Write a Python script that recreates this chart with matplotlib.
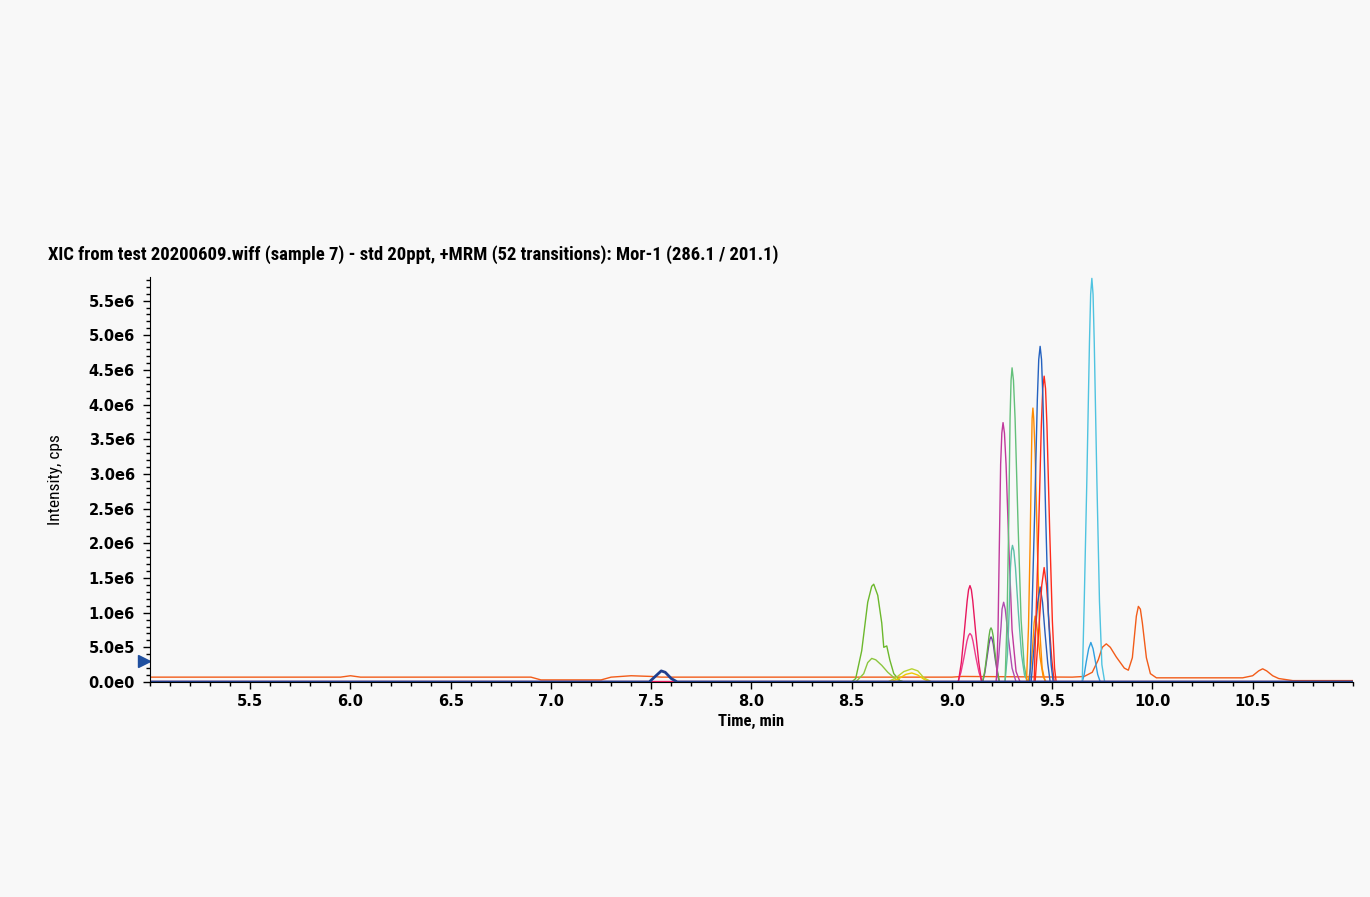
import matplotlib.pyplot as plt
import numpy as np
from matplotlib.ticker import MultipleLocator, FuncFormatter
import matplotlib.transforms as mtransforms
from matplotlib import font_manager

# ---- data read from the XIC (time in min, intensity in 1e6 cps) ----
title_txt = "XIC from test 20200609.wiff (sample 7) - std 20ppt, +MRM (52 transitions): Mor-1 (286.1 / 201.1)"

# orange-red trace with raised baseline and late peaks
mor_t = [5.0, 5.95, 6.0, 6.05, 6.9, 6.95, 7.25, 7.3, 7.4, 7.5, 7.55, 8.5, 8.9, 9.0, 9.05, 9.6,
         9.66, 9.7, 9.73, 9.75, 9.77, 9.79, 9.82, 9.86, 9.88, 9.9, 9.91, 9.92, 9.93, 9.94,
         9.95, 9.97, 9.99, 10.02, 10.45, 10.5, 10.53, 10.55, 10.57, 10.6, 10.63, 10.7, 11.0]
mor_i = [0.07, 0.07, 0.09, 0.07, 0.07, 0.03, 0.03, 0.07, 0.09, 0.08, 0.07, 0.07, 0.07, 0.07, 0.08, 0.07,
         0.08, 0.14, 0.32, 0.50, 0.55, 0.50, 0.36, 0.20, 0.17, 0.35, 0.65, 0.95, 1.09, 1.05,
         0.85, 0.35, 0.12, 0.06, 0.06, 0.09, 0.16, 0.19, 0.16, 0.09, 0.05, 0.02, 0.02]

navy_t = [5.0, 7.49, 7.52, 7.55, 7.57, 7.6, 7.63, 11.0]
navy_i = [0.0, 0.0, 0.08, 0.16, 0.14, 0.05, 0.0, 0.0]

green1_t = [8.5, 8.52, 8.55, 8.58, 8.6, 8.61, 8.63, 8.65, 8.66, 8.675, 8.69, 8.71, 8.74, 8.76]
green1_i = [0.0, 0.05, 0.45, 1.15, 1.38, 1.41, 1.25, 0.85, 0.5, 0.52, 0.32, 0.12, 0.02, 0.0]
green2_t = [8.52, 8.56, 8.58, 8.6, 8.62, 8.65, 8.68, 8.72, 8.76]
green2_i = [0.0, 0.12, 0.28, 0.34, 0.32, 0.24, 0.14, 0.04, 0.0]
ygreen_t = [8.68, 8.72, 8.76, 8.8, 8.83, 8.86, 8.9]
ygreen_i = [0.0, 0.06, 0.15, 0.19, 0.16, 0.06, 0.0]
yellow_t = [8.69, 8.73, 8.77, 8.8, 8.83, 8.86, 8.89]
yellow_i = [0.0, 0.04, 0.11, 0.13, 0.1, 0.04, 0.0]

crimson_t = [9.032, 9.047, 9.061, 9.076, 9.083, 9.09, 9.097, 9.104, 9.119, 9.134, 9.148]
crimson_i = [0.0, 0.28, 0.70, 1.17, 1.33, 1.39, 1.33, 1.17, 0.70, 0.28, 0.0]
pink_t = [9.03, 9.045, 9.06, 9.075, 9.083, 9.09, 9.098, 9.105, 9.12, 9.135, 9.15]
pink_i = [0.0, 0.14, 0.35, 0.59, 0.67, 0.70, 0.67, 0.59, 0.35, 0.14, 0.0]

g919_t = [9.153, 9.164, 9.174, 9.185, 9.19, 9.195, 9.2, 9.206, 9.216, 9.227, 9.237]
g919_i = [0.0, 0.16, 0.39, 0.66, 0.75, 0.78, 0.75, 0.66, 0.39, 0.16, 0.0]
p919_t = [9.153, 9.164, 9.174, 9.185, 9.19, 9.195, 9.2, 9.206, 9.216, 9.227, 9.237]
p919_i = [0.0, 0.13, 0.33, 0.55, 0.62, 0.65, 0.62, 0.55, 0.33, 0.13, 0.0]

mag_t = [9.222, 9.23, 9.236, 9.243, 9.249, 9.255, 9.262, 9.27, 9.285, 9.3, 9.32, 9.34]
mag_i = [0.0, 0.75, 1.87, 3.14, 3.59, 3.74, 3.59, 3.14, 1.87, 0.75, 0.15, 0.0]
mag2_t = [9.22, 9.233, 9.245, 9.25, 9.258, 9.266, 9.283, 9.3, 9.32]
mag2_i = [0.0, 0.35, 0.8, 1.05, 1.15, 1.05, 0.6, 0.2, 0.0]

g930_t = [9.265, 9.275, 9.283, 9.29, 9.295, 9.3, 9.307, 9.315, 9.33, 9.345, 9.36, 9.375]
g930_i = [0.0, 0.9, 2.26, 3.8, 4.35, 4.53, 4.35, 3.8, 2.26, 0.9, 0.25, 0.0]
teal_t = [9.265, 9.277, 9.285, 9.292, 9.297, 9.302, 9.309, 9.317, 9.332, 9.347, 9.362, 9.38]
teal_i = [0.0, 0.4, 0.98, 1.65, 1.89, 1.97, 1.89, 1.65, 0.98, 0.4, 0.1, 0.0]

orange_t = [9.372, 9.382, 9.39, 9.397, 9.4, 9.404, 9.408, 9.415, 9.426, 9.437, 9.45, 9.465]
orange_i = [0.0, 0.8, 1.98, 3.3, 3.8, 3.95, 3.8, 3.3, 1.98, 0.8, 0.2, 0.0]
orange2_t = [9.38, 9.393, 9.402, 9.41, 9.415, 9.42, 9.428, 9.44, 9.455, 9.47]
orange2_i = [0.0, 0.2, 0.48, 0.85, 0.95, 0.9, 0.7, 0.35, 0.08, 0.0]

blue_t = [9.388, 9.399, 9.4125, 9.426, 9.433, 9.44, 9.447, 9.454, 9.4675, 9.481, 9.495, 9.505]
blue_i = [0.0, 0.97, 2.42, 4.07, 4.65, 4.84, 4.65, 4.07, 2.42, 0.97, 0.25, 0.0]
blue2_t = [9.395, 9.403, 9.415, 9.428, 9.44, 9.452, 9.465, 9.478, 9.49]
blue2_i = [0.0, 0.27, 0.69, 1.15, 1.37, 1.15, 0.69, 0.27, 0.0]

red_t = [9.41, 9.419, 9.4325, 9.446, 9.453, 9.46, 9.467, 9.474, 9.4875, 9.501, 9.512, 9.52]
red_i = [0.0, 0.88, 2.2, 3.7, 4.23, 4.41, 4.23, 3.7, 2.2, 0.88, 0.2, 0.0]
red2_t = [9.415, 9.423, 9.435, 9.448, 9.46, 9.472, 9.485, 9.498, 9.51]
red2_i = [0.0, 0.33, 0.83, 1.39, 1.65, 1.39, 0.83, 0.33, 0.0]

cyan_t = [9.65, 9.66, 9.673, 9.686, 9.692, 9.698, 9.704, 9.71, 9.723, 9.736, 9.748, 9.762]
cyan_i = [0.0, 1.16, 2.91, 4.89, 5.59, 5.82, 5.59, 4.89, 2.91, 1.16, 0.25, 0.0]
lblue_t = [9.65, 9.66, 9.67, 9.682, 9.693, 9.704, 9.716, 9.727, 9.74]
lblue_i = [0.0, 0.11, 0.29, 0.48, 0.57, 0.48, 0.29, 0.11, 0.0]

traces = [
    (green2_t, green2_i, '#8cc63f'),
    (green1_t, green1_i, '#6cb82c'),
    (ygreen_t, ygreen_i, '#b8d432'),
    (yellow_t, yellow_i, '#f0c800'),
    (pink_t, pink_i, '#ee3a8c'),
    (crimson_t, crimson_i, '#e8175d'),
    (p919_t, p919_i, '#7a3ea0'),
    (g919_t, g919_i, '#62b246'),
    (mag2_t, mag2_i, '#b04cb0'),
    (mag_t, mag_i, '#c0399c'),
    (teal_t, teal_i, '#5cc0a8'),
    (g930_t, g930_i, '#63c07a'),
    (orange2_t, orange2_i, '#ff8c00'),
    (orange_t, orange_i, '#ff8c00'),
    (blue2_t, blue2_i, '#2a5db8'),
    (red2_t, red2_i, '#ff2a1a'),
    (red_t, red_i, '#ff2a1a'),
    (blue_t, blue_i, '#2462c0'),
    (lblue_t, lblue_i, '#2fa0e0'),
    (cyan_t, cyan_i, '#4fc3e0'),
]

# pick a narrow face if one is installed
names = {f.name for f in font_manager.fontManager.ttflist}
narrow = [n for n in ['Liberation Sans Narrow', 'Roboto Condensed'] if n in names]
narrow_family = narrow + ['DejaVu Sans']

bg = '#f8f8f8'
fig = plt.figure(figsize=(13.7, 8.97), dpi=100, facecolor=bg)
ax = fig.add_axes([0.1095, 0.2397, 0.878, 0.4515], facecolor=bg)

ax.plot(mor_t, np.array(mor_i) * 1e6, color='#f25c19', lw=1.0)
for t, i, c in traces:
    tt = [5.0] + list(t) + [11.0]
    ii = [0.0] + list(i) + [0.0]
    ax.plot(tt, np.array(ii) * 1e6, color=c, lw=1.0)
# baseline traces stacked at zero
ax.plot([5.0, 11.0], [0.012e6, 0.012e6], color='#e8175d', lw=1.0)
ax.plot(navy_t, np.array(navy_i) * 1e6, color='#1f3f8f', lw=2.0)

ax.set_xlim(5.0, 11.0)
ax.set_ylim(0, 5.84e6)

ax.spines['top'].set_visible(False)
ax.spines['right'].set_visible(False)

ax.set_xticks([5.5, 6.0, 6.5, 7.0, 7.5, 8.0, 8.5, 9.0, 9.5, 10.0, 10.5])
ax.xaxis.set_minor_locator(MultipleLocator(0.1))
ax.yaxis.set_major_locator(MultipleLocator(0.5e6))
ax.yaxis.set_minor_locator(MultipleLocator(0.1e6))


def yfmt(v, pos):
    if v <= 0:
        return '0.0e0'
    e = int(np.floor(np.log10(v) + 1e-9))
    return f'{v / 10 ** e:.1f}e{e}'


ax.yaxis.set_major_formatter(FuncFormatter(yfmt))
ax.xaxis.set_major_formatter(FuncFormatter(lambda v, p: f'{v:.1f}'))
ax.tick_params(which='major', length=5, width=1, labelsize=10.5)
ax.tick_params(axis='y', which='major', pad=6)
ax.tick_params(which='minor', length=3, width=1)
for lab in ax.get_xticklabels() + ax.get_yticklabels():
    lab.set_fontweight('bold')

ax.set_xlabel('Time, min', fontsize=12, fontweight='bold', family=narrow_family, labelpad=4)
ax.set_ylabel('Intensity, cps', fontsize=12.5, family=narrow_family, labelpad=18)

fig.text(48 / 1370, 1 - 255 / 897, title_txt, fontsize=13.4, fontweight='bold',
         family=narrow_family, ha='left', va='center')

# current-intensity arrow on the left axis
trans = mtransforms.blended_transform_factory(ax.transAxes, ax.transData)
ax.plot([-0.005], [0.3e6], marker='>', color='#1f4f9f', markersize=8, transform=trans, clip_on=False)

fig.savefig('out.png', dpi=100, facecolor=bg)
